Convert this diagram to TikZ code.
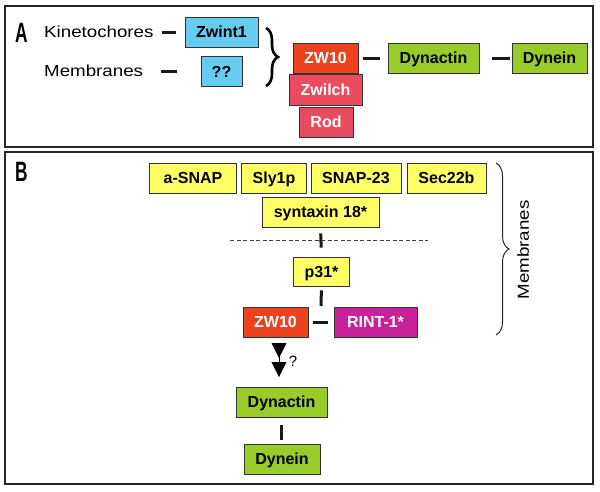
\documentclass[tikz,border=0pt]{standalone}
\usepackage{fontspec}
\setmainfont{Liberation Sans}
\newfontfamily\widefont[FakeStretch=1.17]{Liberation Sans}
\usetikzlibrary{decorations.pathreplacing,arrows.meta,calc}
\definecolor{cyanbox}{HTML}{66CCF0}
\definecolor{redbox}{HTML}{EC4220}
\definecolor{pinkbox}{HTML}{E84C5E}
\definecolor{greenbox}{HTML}{99CC2A}
\definecolor{yellowbox}{HTML}{FFFF66}
\definecolor{magbox}{HTML}{C8229A}
\definecolor{edge}{HTML}{333333}
\begin{document}
\begin{tikzpicture}[x=1pt,y=-1pt,
  box/.style={draw=edge, line width=0.9pt, inner sep=0pt, minimum height=30pt,
    font=\fontsize{16}{16}\selectfont\bfseries, text height=11.5pt, text depth=0pt},
  cyanb/.style={box, fill=cyanbox},
  redb/.style={box, fill=redbox, text=white},
  pinkb/.style={box, fill=pinkbox, text=white},
  greenb/.style={box, fill=greenbox},
  yellowb/.style={box, fill=yellowbox},
  magb/.style={box, fill=magbox, text=white},
  lbl/.style={inner sep=0pt, font=\fontsize{16}{16}\selectfont\widefont, text height=11.5pt, text depth=0pt},
  panellbl/.style={inner sep=0pt, font=\fontsize{28}{28}\selectfont\bfseries},
  link/.style={line width=3pt, draw=black!90},
  panel/.style={line width=2pt, draw=black!85},
  bracel/.style={decorate, decoration={brace, amplitude=#1}},
]
\useasboundingbox (0,0) rectangle (600,491);
\fill[white] (0,0) rectangle (600,491);

% panels
\draw[panel] (5,6) rectangle (593,147);
\draw[panel] (5,152) rectangle (593,484);

% ---------- Panel A ----------
\node[panellbl] (labA) at (21.5,33) {\scalebox{0.62}[1]{A}};
\node[lbl, anchor=west] (kin) at (44,32) {Kinetochores};
\node[lbl, anchor=west] (mem) at (44,71) {Membranes};
\node[cyanb, minimum width=73pt] (zwint) at (221.5,32) {Zwint1};
\node[cyanb, minimum width=41pt] (qq) at (221.5,71.5) {??};
\draw[link, shorten <=8pt, shorten >=9pt] (kin.east) -- (kin.east -| zwint.west);
\draw[link, shorten <=18pt, shorten >=24pt] (mem.east) -- (mem.east -| qq.west);

\coordinate (brA1) at (266,28);
\coordinate (brA2) at (266,86);
\draw[line width=2.6pt, bracel=12pt] (brA1) -- (brA2);

\node[redb, minimum width=65pt] (zwA) at (325.5,58) {ZW10};
\node[pinkb, minimum width=73pt, minimum height=31pt] (zwilch) at (325.5,89.5) {Zwilch};
\node[pinkb, minimum width=54pt] (rod) at (326,122) {Rod};
\node[greenb, minimum width=91pt] (dynA) at (433.5,58) {Dynactin};
\node[greenb, minimum width=75pt] (dyneinA) at (549.5,58) {Dynein};
\draw[link, shorten <=5pt, shorten >=8pt] (zwA.east) -- (dynA.west);
\draw[link, shorten <=13pt, shorten >=2pt] (dynA.east) -- (dyneinA.west);

% ---------- Panel B ----------
\node[panellbl] (labB) at (21.5,172) {\scalebox{0.62}[1]{B}};
\node[yellowb, minimum width=87pt] (asnap) at (193,178) {a-SNAP};
\node[yellowb, minimum width=65pt] (sly) at (274,178) {Sly1p};
\node[yellowb, minimum width=90pt] (snap) at (356,178) {SNAP-23};
\node[yellowb, minimum width=79pt] (sec) at (446.5,178) {Sec22b};
\node[yellowb, minimum width=117pt] (syn) at (320.5,212) {syntaxin 18*};
\coordinate (dl1) at (230,240);
\coordinate (dl2) at (428,240);
\draw[line width=0.9pt, draw=black!75, dash pattern=on 4pt off 2.5pt] (dl1) -- (dl2);
\node[yellowb, minimum width=56pt, minimum height=29pt] (p31) at (321.5,271.5) {p31*};
\draw[link, shorten <=6pt, shorten >=9pt] (syn.south) -- (p31.north);

\node[redb, minimum width=65pt] (zwB) at (275.5,322) {ZW10};
\node[magb, minimum width=83pt] (rint) at (375.5,322) {RINT-1*};
\draw[link, shorten <=5pt, shorten >=6pt] (zwB.east) -- (rint.west);
\coordinate (ptick) at (321,306);
\draw[link, shorten <=4pt] (p31.south) -- (ptick);

\coordinate (ar1) at (279,343);
\coordinate (ar2) at (279,377);
\draw[line width=0pt, -{Triangle[width=15pt,length=15pt,sep=4pt]Triangle[width=15pt,length=15pt]}] (ar1) -- (ar2);
\node[inner sep=0pt, font=\fontsize{15}{15}\selectfont] (qm) at (293,361) {?};

\node[greenb, minimum width=91pt] (dynB) at (281.5,402) {Dynactin};
\node[greenb, minimum width=76pt] (dyneinB) at (282,459) {Dynein};
\draw[link, shorten <=8pt, shorten >=4pt] (dynB.south) -- (dynB.south |- dyneinB.north);

\coordinate (brB1) at (496,163);
\coordinate (brB2) at (496,335);
\draw[line width=1pt, draw=black!85, bracel=13pt] (brB1) -- (brB2);
\node[lbl, rotate=90] (memB) at (523,250) {Membranes};
\end{tikzpicture}
\end{document}
